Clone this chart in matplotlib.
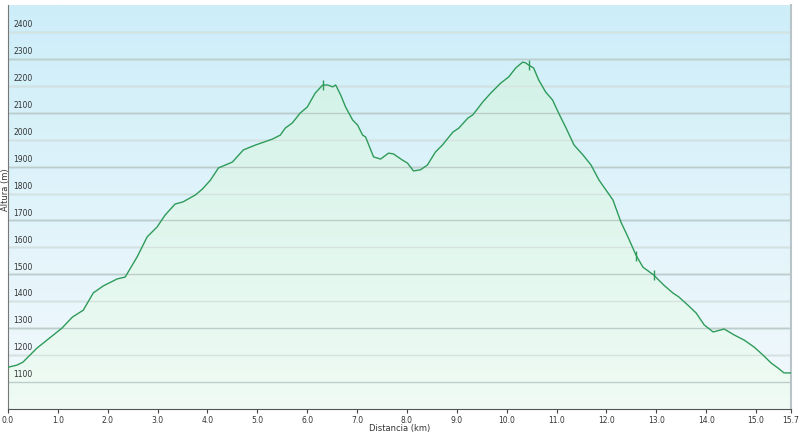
"""Perfil de altura: altura (m) vs distancia (km), fondo degradado y relleno verde."""
import matplotlib

matplotlib.use("Agg")
import matplotlib.pyplot as plt
import numpy as np
from matplotlib.colors import LinearSegmentedColormap

# --- data ---
dist_km = [0.00, 0.18, 0.30, 0.58, 1.08, 1.29, 1.51, 1.71, 1.91, 2.19, 2.35, 2.59, 2.79,
           2.99, 3.15, 3.35, 3.51, 3.76, 3.90, 4.06, 4.22, 4.50, 4.72, 4.96, 5.30, 5.46,
           5.56, 5.70, 5.86, 6.00, 6.16, 6.31, 6.41, 6.51, 6.57, 6.67, 6.77, 6.91, 7.01,
           7.11, 7.17, 7.33, 7.47, 7.63, 7.73, 7.91, 8.01, 8.13, 8.27, 8.41, 8.57, 8.71,
           8.92, 9.04, 9.22, 9.32, 9.52, 9.68, 9.88, 10.04, 10.18, 10.32, 10.38, 10.44,
           10.54, 10.64, 10.78, 10.92, 11.04, 11.18, 11.35, 11.53, 11.69, 11.85, 12.13,
           12.29, 12.43, 12.59, 12.73, 12.95, 13.15, 13.33, 13.45, 13.63, 13.80, 13.96,
           14.14, 14.36, 14.56, 14.76, 14.96, 15.14, 15.30, 15.44, 15.56, 15.70]
altura_m = [1155, 1163, 1174, 1226, 1300, 1341, 1367, 1431, 1457, 1483, 1490, 1565, 1639,
            1676, 1720, 1761, 1769, 1795, 1817, 1850, 1895, 1917, 1962, 1980, 2002, 2017,
            2043, 2062, 2099, 2121, 2173, 2203, 2203, 2196, 2203, 2166, 2121, 2073, 2054,
            2017, 2010, 1936, 1928, 1950, 1947, 1924, 1913, 1884, 1888, 1906, 1954, 1980,
            2028, 2043, 2080, 2092, 2140, 2173, 2210, 2233, 2266, 2288, 2285, 2277,
            2266, 2222, 2177, 2147, 2099, 2047, 1980, 1943, 1906, 1850, 1776,
            1694, 1639, 1572, 1527, 1497, 1460, 1431, 1416, 1386, 1356, 1312,
            1286, 1297, 1275, 1256, 1230, 1200, 1171, 1152, 1134, 1134]

# waypoint marks on the profile
waypoints_km = [6.31, 10.44, 12.60, 12.95]

y_ticks = list(range(1100, 2500, 100))
x_ticks = [float(i) for i in range(16)] + [15.7]
x_ticklabels = [f"{t:.1f}" for t in x_ticks]

XMAX, YMIN, YMAX = 15.7, 1000, 2500

fig = plt.figure(figsize=(8.0, 4.33), dpi=100)
ax = fig.add_axes([8 / 800, 24 / 433, 783 / 800, 404 / 433])
ax.set_xlim(0, XMAX)
ax.set_ylim(YMIN, YMAX)

# sky-blue background gradient
sky = LinearSegmentedColormap.from_list("sky", ["#f3f9fc", "#cdeef9"])
grad = np.linspace(0, 1, 256).reshape(-1, 1)
ax.imshow(grad, cmap=sky, origin="lower", aspect="auto",
          extent=(0, XMAX, YMIN, YMAX), zorder=0)

# gridlines (odd hundreds a bit darker)
for v in y_ticks:
    c = "#a9bcc2" if (v // 100) % 2 else "#bccbd0"
    ax.axhline(v, color=c, lw=1.0, zorder=1)

# green gradient under the curve, clipped to the profile
poly = ax.fill_between(dist_km, altura_m, YMIN, facecolor="none", edgecolor="none")
mint = LinearSegmentedColormap.from_list("mint", ["#effbf4", "#d3f2e8"])
img = ax.imshow(grad, cmap=mint, origin="lower", aspect="auto",
                extent=(0, XMAX, YMIN, max(altura_m)), zorder=2)
img.set_clip_path(poly.get_paths()[0], transform=ax.transData)
ax.set_ylim(YMIN, YMAX)

# gridlines stay visible on top of the fill, faintly
for v in y_ticks:
    c = "#bccdca" if (v // 100) % 2 else "#d6e2df"
    ax.axhline(v, color=c, lw=1.0, zorder=2.5)

ax.plot(dist_km, altura_m, color="#2e9b5a", lw=1.0, zorder=3)
wy = np.interp(waypoints_km, dist_km, altura_m)
ax.plot(waypoints_km, wy, ls="none", marker="|", ms=7, mew=1.0, color="#2e9b5a", zorder=3)

# y labels sit inside the plot, just above their gridline
ax.set_yticks([])
for v in y_ticks:
    ax.annotate(str(v), xy=(0, v), xytext=(4, 2), textcoords="offset points",
                fontsize=5.5, color="#333333", va="bottom", ha="left", zorder=4)

ax.set_xticks(x_ticks)
ax.set_xticklabels(x_ticklabels, fontsize=5.5, color="#333333")
ax.tick_params(axis="x", length=3, width=0.8, color="#444444", pad=2)

ax.spines["top"].set_visible(False)
ax.spines["left"].set_color("#777777")
ax.spines["bottom"].set_color("#555555")
ax.spines["right"].set_color("#b8c4c8")
ax.spines["right"].set_linewidth(1.5)

fig.text(400 / 800, 4 / 433, "Distancia (km)", fontsize=6, color="#333333",
         ha="center", va="center")
fig.text(1 / 800, 1 - 190 / 433, "Altura (m)", fontsize=6, color="#333333",
         rotation=90, ha="left", va="center")

fig.savefig("out.png", dpi=100)
